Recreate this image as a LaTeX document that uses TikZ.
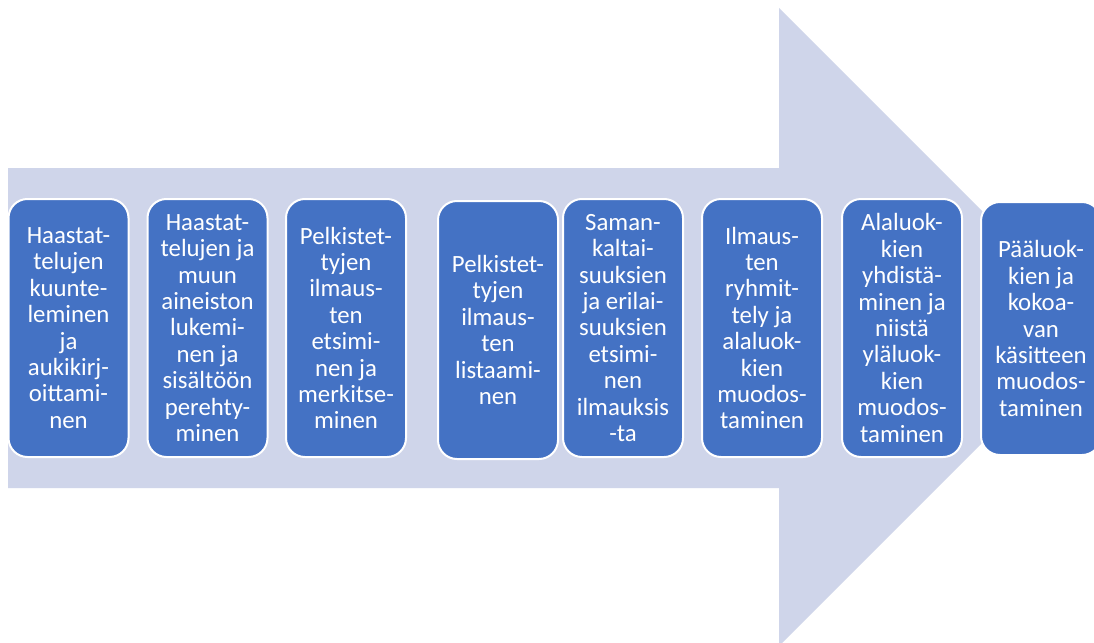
\documentclass[tikz,border=0pt]{standalone}
\usepackage{fontspec}
\setmainfont{Carlito}
\definecolor{arrowfill}{HTML}{CFD5EA}
\definecolor{boxfill}{HTML}{4472C4}
\tikzset{
  stepbox/.style={draw=white, line width=2pt, fill=boxfill, rounded corners=19pt,
    minimum width=120pt, minimum height=258pt, inner sep=0pt, text=white, align=center,
    font=\fontsize{24.8}{26.4}\selectfont},
  bigarrow/.style={fill=arrowfill, draw=none}
}
\begin{document}
\begin{tikzpicture}[x=1pt, y=-1pt]
\useasboundingbox (0,0) rectangle (1094,642);
\clip (0,0) rectangle (1094,642);
\fill[white] (0,0) rectangle (1094,642);
\fill[bigarrow] (8,168) -- (779,168) -- (779,8) -- (1098,327) -- (779,646) -- (779,488) -- (8,488) -- cycle;
\node[stepbox] (b1) at (68.5,328) {Haastat-\\telujen\\kuunte-\\leminen\\ja\\aukikirj-\\oittami-\\nen};
\node[stepbox] (b2) at (207.5,328) {Haastat-\\telujen ja\\muun\\aineiston\\lukemi-\\nen ja\\sisältöön\\perehty-\\minen};
\node[stepbox] (b3) at (346,328) {Pelkistet-\\tyjen\\ilmaus-\\ten\\etsimi-\\nen ja\\merkitse-\\minen};
\node[stepbox] (b4) at (498,330) {Pelkistet-\\tyjen\\ilmaus-\\ten\\listaami-\\nen};
\node[stepbox] (b5) at (623,328) {Saman-\\kaltai-\\suuksien\\ja erilai-\\suuksien\\etsimi-\\nen\\ilmauksis\\-ta};
\node[stepbox] (b6) at (762,328) {Ilmaus-\\ten\\ryhmit-\\tely ja\\alaluok-\\kien\\muodos-\\taminen};
\node[stepbox] (b7) at (902,328) {Alaluok-\\kien\\yhdistä-\\minen ja\\niistä\\yläluok-\\kien\\muodos-\\taminen};
\node[stepbox, minimum height=253pt] (b8) at (1041,328.5) {Pääluok-\\kien ja\\kokoa-\\van\\käsitteen\\muodos-\\taminen};
\end{tikzpicture}
\end{document}
